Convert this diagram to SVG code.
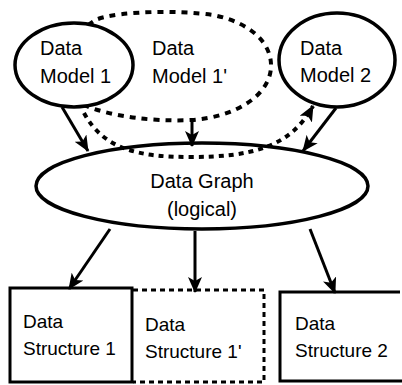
<svg xmlns="http://www.w3.org/2000/svg" width="402" height="385" viewBox="0 0 402 385">
<style>
.node{fill:#fff;stroke:#000;stroke-width:3.5}
.dnode{fill:none;stroke:#000;stroke-width:4;stroke-dasharray:6 6}
.box{fill:none;stroke:#000;stroke-width:3}
.dbox{fill:none;stroke:#000;stroke-width:3;stroke-dasharray:5 4}
.t{font-family:"Liberation Sans",Arial,sans-serif;font-size:20px;fill:#000}
.ts{font-family:"Liberation Sans",Arial,sans-serif;font-size:19px;fill:#000}
.c{text-anchor:middle}
.arr{fill:none;stroke:#000;stroke-width:3;marker-end:url(#ah)}
.darr{fill:none;stroke:#000;stroke-width:4;stroke-dasharray:5 5;marker-end:url(#ah)}
</style>
<defs>
<marker id="ah" markerUnits="userSpaceOnUse" viewBox="0 0 16 14" markerWidth="16" markerHeight="14" refX="15" refY="7" orient="auto">
<path d="M0,0 L16,7 L0,14 L4,7 Z" fill="#000"/>
</marker>
</defs>
<g id="model1prime">
<path class="dnode" d="M98,19 C120,11 180,10 213,15 C253,23 272,45 271,67 C270,95 236,117 192,120 C150,122 112,116 86,106 C60,95 62,35 98,19 Z"/>
<text class="t" x="152" y="55">Data</text>
<text class="t" x="152" y="83">Model 1'</text>
</g>
<g id="model1">
<ellipse class="node" cx="74" cy="65" rx="59" ry="42"/>
<text class="t" x="40" y="55">Data</text>
<text class="t" x="40" y="83">Model 1</text>
</g>
<g id="model2">
<ellipse class="node" cx="337" cy="60" rx="58" ry="47"/>
<text class="t" x="300" y="55">Data</text>
<text class="t" x="300" y="82">Model 2</text>
</g>
<g id="graph">
<ellipse class="node" cx="202" cy="186" rx="166" ry="43"/>
<text class="t c" x="202" y="188">Data Graph</text>
<text class="t c" x="202" y="216">(logical)</text>
</g>
<g id="struct1">
<rect class="box" x="10" y="288" width="122" height="94"/>
<text class="ts" x="23" y="328">Data</text>
<text class="ts" x="23" y="355">Structure 1</text>
</g>
<g id="struct1prime">
<path class="dbox" d="M133,290 L264,290 L264,382 L133,382"/>
<text class="ts" x="145" y="331">Data</text>
<text class="ts" x="145" y="358">Structure 1'</text>
</g>
<g id="struct2">
<path class="box" d="M400,292 L280,292 L280,381 L402,381"/>
<text class="ts" x="295" y="330">Data</text>
<text class="ts" x="295" y="357">Structure 2</text>
</g>
<g id="connectors">
<path class="arr" d="M62,107 L88,151"/>
<path class="arr" d="M192,120 L192,146"/>
<path class="arr" d="M336,108 L303,151"/>
<path class="darr" d="M84,113 C104,150 140,157 190,157 C250,157 290,148 313,106"/>
<path class="arr" d="M110,229 L69,289"/>
<path class="arr" d="M195,231 L195,292"/>
<path class="arr" d="M310,229 L335,293"/>
</g>
</svg>
